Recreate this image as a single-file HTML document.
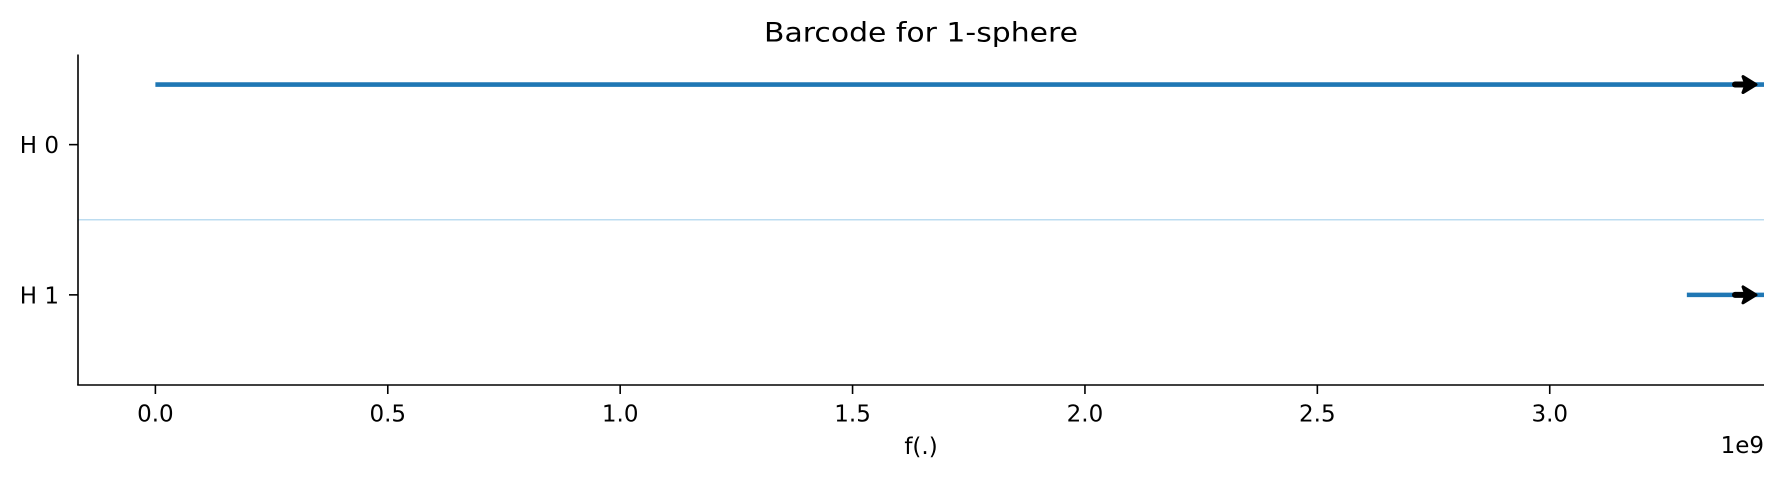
<!DOCTYPE html>
<html><head><meta charset="utf-8"><style>
html,body{margin:0;padding:0;background:#fff;}
svg{display:block;}
text{font-family:"DejaVu Sans","Liberation Sans",sans-serif;fill:#000;}
</style></head><body>
<svg id="chart" width="1781" height="478" viewBox="0 0 1781 478" xmlns="http://www.w3.org/2000/svg">
<text x="921" y="41.5" font-size="27" text-anchor="middle" textLength="314" lengthAdjust="spacingAndGlyphs">Barcode for 1-sphere</text>
<g id="plot"></g>
<text x="921" y="454" font-size="23" text-anchor="middle">f(.)</text>
<text x="1764" y="453" font-size="23" text-anchor="end">1e9</text>
</svg>
<script>
const dims = ["H 0", "H 1"];
const births = [0.0, 3.295];
const deaths = [Infinity, Infinity];
const xTicks = [0.0, 0.5, 1.0, 1.5, 2.0, 2.5, 3.0];
const xTickLabels = ["0.0", "0.5", "1.0", "1.5", "2.0", "2.5", "3.0"];
const barRows = [-0.4, 1.0];

const L = 78, R = 1764, T = 54.5, B = 385;
const xMin = -0.1665, xMax = 3.461;
const yMin = -0.6, yMax = 1.6;
const xs = v => L + (v - xMin) / (xMax - xMin) * (R - L);
const ys = v => T + (v - yMin) / (yMax - yMin) * (B - T);
const NS = "http://www.w3.org/2000/svg";
const g = document.getElementById('plot');
function mk(tag, attrs) { const e = document.createElementNS(NS, tag); for (const k in attrs) e.setAttribute(k, attrs[k]); g.appendChild(e); return e; }

const div = mk('line', {x1: L, x2: R, y1: ys(0.5), y2: ys(0.5), stroke: '#bcdcf0', 'stroke-width': 1.5});



for (let i = 0; i < births.length; i++) {
  const y = ys(barRows[i]);
  const x1 = xs(births[i]);
  const x2 = isFinite(deaths[i]) ? xs(deaths[i]) : R;
  const bar = mk('line', {x1: x1, x2: x2, y1: y, y2: y, stroke: '#1f77b4', 'stroke-width': 4.6});
  
  
  if (!isFinite(deaths[i])) {
    const a = mk('g', {});
    
    
    const sh = document.createElementNS(NS, 'line');
    sh.setAttribute('x1', R - 29); sh.setAttribute('x2', R - 14); sh.setAttribute('y1', y); sh.setAttribute('y2', y);
    sh.setAttribute('stroke', '#000'); sh.setAttribute('stroke-width', 6); sh.setAttribute('stroke-linecap', 'round');
    a.appendChild(sh);
    const hd = document.createElementNS(NS, 'path');
    hd.setAttribute('d', `M${R-8} ${y} L${R-21} ${y-8} L${R-18} ${y} L${R-21} ${y+8} Z`);
    hd.setAttribute('fill', '#000'); hd.setAttribute('stroke', '#000'); hd.setAttribute('stroke-width', 3); hd.setAttribute('stroke-linejoin', 'round');
    a.appendChild(hd);
  }
}

const ls = mk('line', {x1: L, x2: L, y1: T, y2: B, stroke: '#000', 'stroke-width': 1.6});


const bs = mk('line', {x1: L - 0.8, x2: R, y1: B, y2: B, stroke: '#000', 'stroke-width': 1.6});



for (let i = 0; i < xTicks.length; i++) {
  const x = xs(xTicks[i]);
  const t = mk('line', {x1: x, x2: x, y1: B, y2: B + 9, stroke: '#000', 'stroke-width': 1.6});
  
  
  const lb = mk('text', {x: x, y: 421.5, 'font-size': 23, 'text-anchor': 'middle'});
  lb.textContent = xTickLabels[i];
  
  
}
for (let i = 0; i < dims.length; i++) {
  const y = ys(i);
  const t = mk('line', {x1: L - 9, x2: L, y1: y, y2: y, stroke: '#000', 'stroke-width': 1.6});
  
  
  const lb = mk('text', {x: 59, y: y + 8.5, 'font-size': 23, 'text-anchor': 'end'});
  lb.textContent = dims[i];
  
  
}
</script>
</body></html>
